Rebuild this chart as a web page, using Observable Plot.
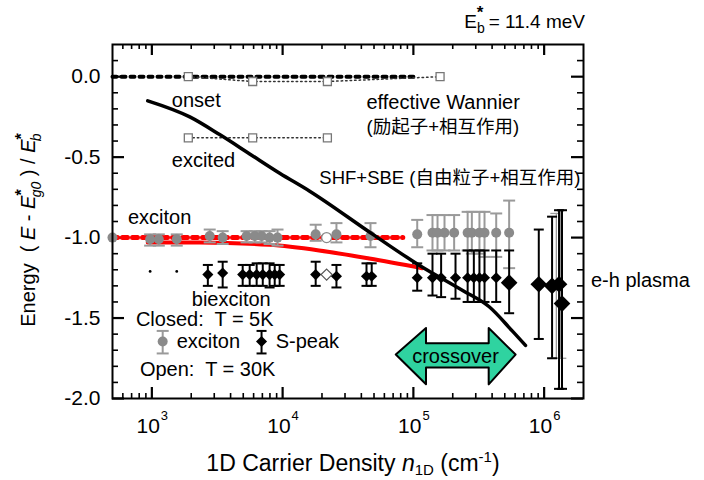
<!DOCTYPE html>
<html><head><meta charset="utf-8">
<script src="https://cdn.jsdelivr.net/npm/d3@7"></script>
<script src="https://cdn.jsdelivr.net/npm/@observablehq/plot@0.6"></script>
<style>
body{margin:0;background:#fff}
svg{font-family:"Liberation Sans",Arial,"Noto Sans CJK SC",sans-serif;overflow:visible}
</style>
</head><body><div id="chart"></div>
<script>
// ---- scales / ticks ----
const xDomain = [500, 2e6];
const yDomain = [-2.0, 0.2];
const xMajor = [1e3, 1e4, 1e5, 1e6];
const xExponent = ["3", "4", "5", "6"];
const xMinor = [600,700,800,900,2e3,3e3,4e3,5e3,6e3,7e3,8e3,9e3,2e4,3e4,4e4,5e4,6e4,7e4,8e4,9e4,2e5,3e5,4e5,5e5,6e5,7e5,8e5,9e5];
const yMajor = [0, -0.5, -1.0, -1.5, -2.0];
const yMinor = [0.1,-0.1,-0.2,-0.3,-0.4,-0.6,-0.7,-0.8,-0.9,-1.1,-1.2,-1.3,-1.4,-1.6,-1.7,-1.8,-1.9];

// ---- theory curves ----
const wannierOnset = [[500, 0.0], [1e5, 0.0]];
const onsetSquares = [[1900, 0.0], [5900, -0.03], [22000, -0.03], [160000, 0.0]];
const excitedSquares = [[1900, -0.38], [5900, -0.38], [22000, -0.38]];
const shfSbe = [[930,-0.15],[1950,-0.25],[3300,-0.36],[5600,-0.48],[9500,-0.60],[16000,-0.71],[49000,-0.98],[110000,-1.17],[240000,-1.33],[380000,-1.43],[570000,-1.58],[720000,-1.67]];
const excitonLevel = [[500, -1.0], [83000, -1.0]];
const redCurve = [[930,-1.03],[2300,-1.03],[7900,-1.045],[19000,-1.08],[46000,-1.13],[117000,-1.19]];

// ---- data: [density, energy, lower, upper] ----
const excitonClosed = [
 [500,-1.00,null,null],[970,-1.01,-1.05,-0.98],[1130,-1.01,-1.05,-0.98],[1550,-1.01,-1.05,-0.98],
 [2770,-0.99,-1.03,-0.95],[3480,-1.00,-1.04,-0.96],[5300,-0.99,-1.03,-0.96],[6120,-0.99,-1.03,-0.96],
 [6910,-0.99,-1.03,-0.96],[7950,-1.00,-1.04,-0.96],[9140,-1.00,-1.05,-0.95],[17900,-0.98,-1.02,-0.92],
 [25800,-0.98,-1.03,-0.91],[47000,-0.99,-1.06,-0.91],[107000,-0.98,-1.06,-0.89],[140000,-0.97,-1.08,-0.86],
 [153000,-0.97,-1.08,-0.86],[173000,-0.97,-1.08,-0.86],[205000,-0.97,-1.08,-0.86],[260000,-0.97,-1.08,-0.84],
 [280000,-0.97,-1.10,-0.84],[320000,-0.97,-1.10,-0.84],[350000,-0.97,-1.12,-0.84],[430000,-0.97,-1.12,-0.85],
 [540000,-0.97,-1.19,-0.77]
];
const excitonOpen = [[21700, -1.00]];
const speakDots = [[970, -1.21], [1550, -1.21]];
const speakClosed = [
 [2680,-1.23,-1.30,-1.17],[3480,-1.22,-1.31,-1.15],[4950,-1.23,-1.30,-1.17],[5600,-1.23,-1.30,-1.17],
 [6330,-1.23,-1.30,-1.16],[7050,-1.23,-1.30,-1.16],[7950,-1.23,-1.31,-1.16],[8700,-1.23,-1.30,-1.17],
 [9490,-1.23,-1.30,-1.17],[17900,-1.23,-1.30,-1.15],[25800,-1.24,-1.31,-1.17],[43800,-1.24,-1.30,-1.16],
 [48000,-1.24,-1.30,-1.16],[107000,-1.25,-1.33,-1.16],[140000,-1.25,-1.36,-1.10],[163000,-1.25,-1.37,-1.10],
 [210000,-1.25,-1.38,-1.10],[260000,-1.25,-1.40,-1.08],[290000,-1.25,-1.40,-1.08],[320000,-1.25,-1.40,-1.08],
 [350000,-1.25,-1.40,-1.08],[430000,-1.25,-1.40,-1.08]
];
const plasmaClosed = [[540000,-1.28,-1.47,-1.08],[910000,-1.29,-1.63,-0.95],[1150000,-1.30,-1.75,-0.87],[1300000,-1.29,-1.94,-0.83],[1370000,-1.41,-1.94,-0.83]];
const speakOpen = [[21700, -1.23]];
const openBars = [[1240000,null,-1.75,-0.85],[1330000,null,-1.75,-0.83]];

// ---- annotations ----
const crossoverArrow = [[74000,-1.73,-1.73],[126000,-1.915,-1.565],[126000,-1.81,-1.66],[380000,-1.81,-1.66],[380000,-1.915,-1.565],[610000,-1.73,-1.73]];
const labels = [
 [1420,-0.146,"onset"],[1420,-0.52,"excited"],[43800,-0.158,"effective Wannier"],
 [656,-0.877,"exciton"],[2020,-1.383,"biexciton"],
 [755,-1.508,"Closed:  T = 5K"],[1550,-1.646,"exciton"],[8850,-1.646,"S-peak"],[810,-1.82,"Open:  T = 30K"],
 [2280000,-1.27,"e-h plasma"]
];
const cjkLabels = [[43800,-0.315,"(励起子+相互作用)"],[19100,-0.633,"SHF+SBE (自由粒子+相互作用)"]];
const crossoverLabel = [[210000,-1.74,"crossover"]];
const legendExciton = [[1210,-1.646,-1.72,-1.58]];
const legendSpeak = [[6900,-1.646,-1.72,-1.58]];

const GRAY = "#8a8a8a";
const BAR_GRAY = "#9a9a9a";
const FRAME_W = 704 - 112 - 121, FRAME_H = 480 - 44 - 82;
const yPerPx = (yDomain[1] - yDomain[0]) / FRAME_H;
const decPerPx = Math.log10(xDomain[1] / xDomain[0]) / FRAME_W;

const cap = {draw(ctx, size){ const w = Math.sqrt(size/Math.PI); ctx.moveTo(-w,0); ctx.lineTo(w,0); }};
function bars(data, color, r, sw){
  const d = data.filter(p => p[2] != null);
  return [
    Plot.ruleX(d, {x: p=>p[0], y1: p=>p[2], y2: p=>p[3], stroke: color, strokeWidth: sw}),
    Plot.dot(d, {x: p=>p[0], y: p=>p[2], symbol: cap, r, fill: "none", stroke: color, strokeWidth: sw}),
    Plot.dot(d, {x: p=>p[0], y: p=>p[3], symbol: cap, r, fill: "none", stroke: color, strokeWidth: sw})
  ];
}
// inward frame ticks, as rules whose ends go through the x / y scales
function frameTicks(xs, ys, len, sw){
  const dy = len * yPerPx, kx = Math.pow(10, (len + 1) * decPerPx);
  return [
    Plot.ruleX(xs, {x: d=>d, y1: () => yDomain[0], y2: () => yDomain[0] + dy, stroke: "black", strokeWidth: sw}),
    Plot.ruleX(xs, {x: d=>d, y1: () => yDomain[1], y2: () => yDomain[1] - dy, stroke: "black", strokeWidth: sw}),
    Plot.ruleY(ys, {y: d=>d, x1: () => xDomain[0], x2: () => xDomain[0] * kx, stroke: "black", strokeWidth: sw}),
    Plot.ruleY(ys, {y: d=>d, x1: () => xDomain[1], x2: () => xDomain[1] / kx, stroke: "black", strokeWidth: sw})
  ];
}

const plot = Plot.plot({
  width: 704, height: 480,
  marginLeft: 112, marginRight: 121, marginTop: 44, marginBottom: 82,
  style: {fontFamily: '"Liberation Sans",Arial,"Noto Sans CJK SC",sans-serif', fontSize: "20px", background: "white", overflow: "visible"},
  x: {type: "log", domain: xDomain, axis: null},
  y: {domain: yDomain, axis: null},
  marks: [
    ...frameTicks(xMajor, yMajor, 11, 2.2),
    ...frameTicks(xMinor, yMinor, 5, 1.6),
    Plot.areaY(crossoverArrow, {x: d=>d[0], y1: d=>d[1], y2: d=>d[2], fill: "#2fd3a0", stroke: "black", strokeWidth: 2, curve: "linear"}),
    Plot.text(crossoverLabel, {x: d=>d[0], y: d=>d[1], text: d=>d[2], fontSize: 20, fill: "black"}),
    Plot.line(wannierOnset, {x: d=>d[0], y: d=>d[1], stroke: "black", strokeWidth: 4, strokeDasharray: "4,5"}),
    Plot.line(onsetSquares, {x: d=>d[0], y: d=>d[1], stroke: "#333", strokeWidth: 1.5, strokeDasharray: "1.5,3"}),
    Plot.line(excitedSquares, {x: d=>d[0], y: d=>d[1], stroke: "#333", strokeWidth: 1.5, strokeDasharray: "1.5,3"}),
    Plot.dot(onsetSquares, {x: d=>d[0], y: d=>d[1], symbol: "square", r: 4.5, fill: "white", stroke: "#777", strokeWidth: 1.3}),
    Plot.dot(excitedSquares, {x: d=>d[0], y: d=>d[1], symbol: "square", r: 4.5, fill: "white", stroke: "#777", strokeWidth: 1.3}),
    Plot.line(redCurve, {x: d=>d[0], y: d=>d[1], stroke: "red", strokeWidth: 4, curve: "monotone-x"}),
    Plot.line(excitonLevel, {x: d=>d[0], y: d=>d[1], stroke: "red", strokeWidth: 5, strokeDasharray: "5,5"}),
    ...bars(openBars, BAR_GRAY, 6, 1.3),
    ...bars(excitonClosed, BAR_GRAY, 6, 2),
    Plot.dot(excitonClosed, {x: d=>d[0], y: d=>d[1], r: 5, fill: GRAY}),
    Plot.dot(excitonOpen, {x: d=>d[0], y: d=>d[1], r: 5, fill: "white", stroke: GRAY, strokeWidth: 1.3}),
    ...bars(speakClosed, "black", 5, 2),
    ...bars(plasmaClosed, "black", 5, 2),
    Plot.dot(speakDots, {x: d=>d[0], y: d=>d[1], r: 1.4, fill: "black"}),
    Plot.dot(speakClosed, {x: d=>d[0], y: d=>d[1], symbol: "diamond2", r: 5, fill: "black"}),
    Plot.dot(plasmaClosed, {x: d=>d[0], y: d=>d[1], symbol: "diamond2", r: 7.5, fill: "black"}),
    Plot.dot(speakOpen, {x: d=>d[0], y: d=>d[1], symbol: "diamond2", r: 5, fill: "white", stroke: "#555", strokeWidth: 1.2}),
    Plot.line(shfSbe, {x: d=>d[0], y: d=>d[1], stroke: "black", strokeWidth: 3.5, curve: "monotone-x"}),
    // legend symbols
    ...bars(legendExciton, BAR_GRAY, 6, 2),
    Plot.dot(legendExciton, {x: d=>d[0], y: d=>d[1], r: 5, fill: GRAY}),
    ...bars(legendSpeak, "black", 5, 2),
    Plot.dot(legendSpeak, {x: d=>d[0], y: d=>d[1], symbol: "diamond2", r: 5, fill: "black"}),
    Plot.text(labels, {x: d=>d[0], y: d=>d[1], text: d=>d[2], textAnchor: "start", fontSize: 20, fill: "black"}),
    Plot.text(cjkLabels, {x: d=>d[0], y: d=>d[1], text: d=>d[2], textAnchor: "start", fontSize: 18.5, fill: "black"}),
    Plot.frame({stroke: "black", strokeWidth: 2, fill: "none"}),
    Plot.axisY({anchor: "left", ticks: yMajor, tickSize: 0, tickPadding: 12, tickFormat: d => d.toFixed(1), fontSize: 21, label: null}),
    Plot.text(xMajor, {x: d=>d, frameAnchor: "bottom", dy: 34, dx: 8, text: () => "10", textAnchor: "end", fontSize: 21}),
    Plot.text(xMajor, {x: d=>d, frameAnchor: "bottom", dy: 21, dx: 9, text: (d,i) => xExponent[i], textAnchor: "start", fontSize: 13})
  ]
});

document.getElementById("chart").appendChild(plot);
const svg = d3.select(plot);

// header: E*_b = 11.4 meV
const hdr = svg.append("text").attr("x", 585).attr("y", 28).attr("text-anchor", "end").attr("font-size", 19).attr("fill", "black");
hdr.append("tspan").text("E");
hdr.append("tspan").attr("font-size", 14).attr("dy", 5).text("b");
hdr.append("tspan").attr("font-size", 17).attr("font-weight", "bold").attr("dx", -8).attr("dy", -15).text("*");
hdr.append("tspan").attr("dy", 10).text(" = 11.4 meV");

// x axis label
const xl = svg.append("text").attr("x", 353).attr("y", 471).attr("text-anchor", "middle").attr("font-size", 23).attr("fill", "black");
xl.append("tspan").text("1D Carrier Density ");
xl.append("tspan").attr("font-style", "italic").text("n");
xl.append("tspan").attr("font-size", 15).attr("dy", 4).text("1D");
xl.append("tspan").attr("dy", -4).text(" (cm");
xl.append("tspan").attr("font-size", 15).attr("dy", -9).text("-1");
xl.append("tspan").attr("dy", 9).text(")");

// y axis label
const yl = svg.append("text").attr("transform", "translate(35,230) rotate(-90)").attr("text-anchor", "middle").attr("font-size", 20).attr("fill", "black");
yl.append("tspan").text("Energy  ( ");
yl.append("tspan").attr("font-style", "italic").text("E");
yl.append("tspan").text(" - ");
yl.append("tspan").attr("font-style", "italic").text("E");
yl.append("tspan").attr("font-size", 16).attr("font-weight", "bold").attr("dy", -8).text("*");
yl.append("tspan").attr("font-size", 14).attr("font-style", "italic").attr("dx", -8).attr("dy", 14).text("g0");
yl.append("tspan").attr("dy", -6).text(" ) / ");
yl.append("tspan").attr("font-style", "italic").text("E");
yl.append("tspan").attr("font-size", 16).attr("font-weight", "bold").attr("dy", -8).text("*");
yl.append("tspan").attr("font-size", 14).attr("font-style", "italic").attr("dx", -8).attr("dy", 14).text("b");
</script>
</body></html>
